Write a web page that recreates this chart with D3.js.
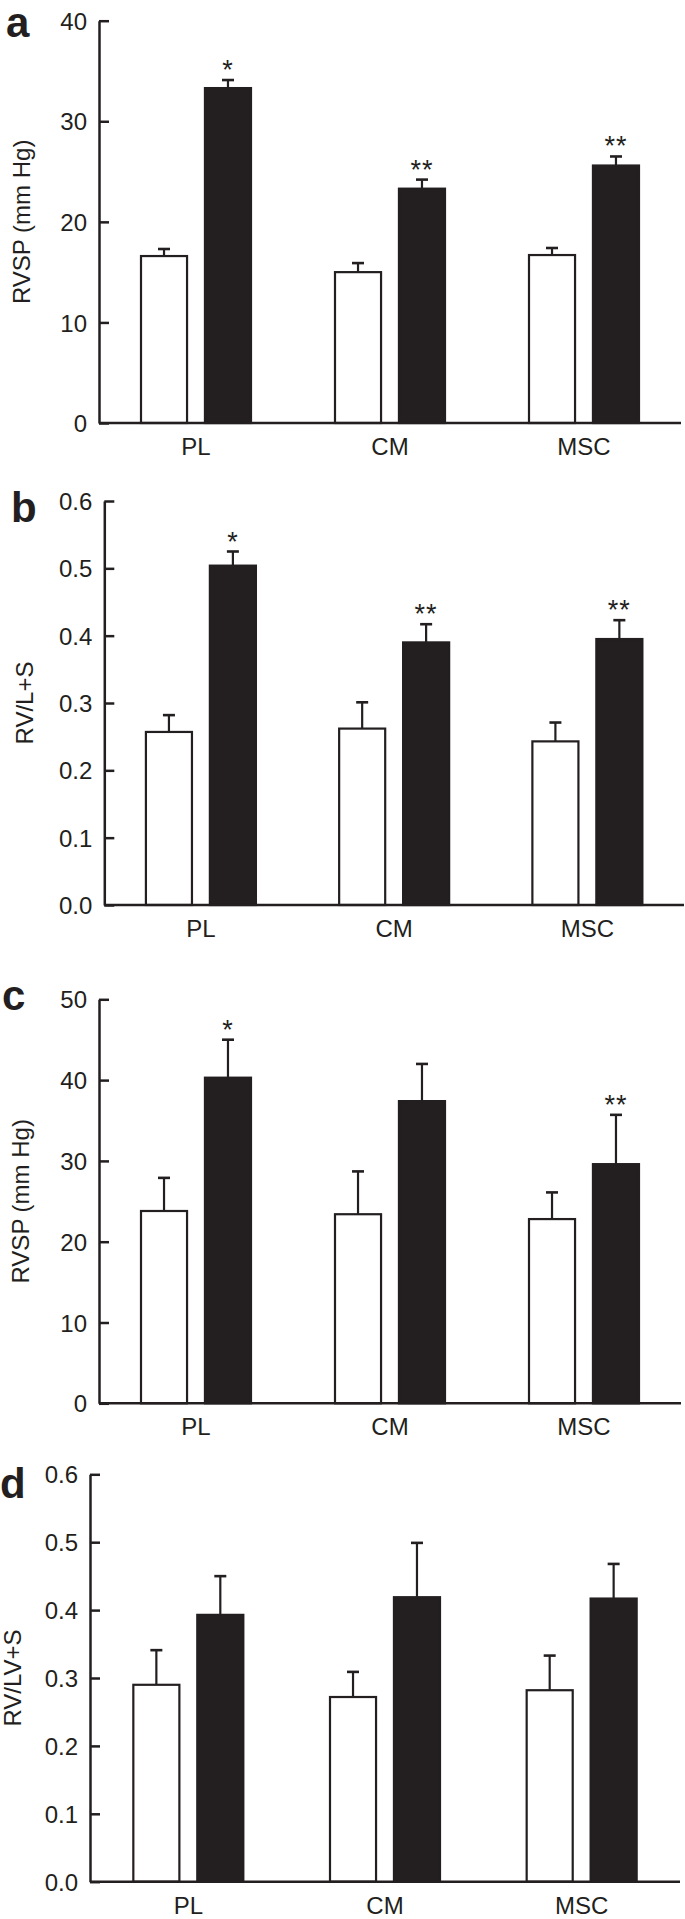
<!DOCTYPE html>
<html>
<head>
<meta charset="utf-8">
<script src="https://cdn.jsdelivr.net/npm/d3@7"></script>
<style>
  body { margin: 0; background: #fff; }
  svg { display: block; font-family: "Liberation Sans", Arial, sans-serif; }
  .axis path, .axis line { stroke: #231f20; stroke-width: 2.5; }
  .axis text { font-size: 24px; fill: #231f20; }
</style>
</head>
<body>
<div id="chart"></div>
<script>
// groups on the x axis
var groups = ["PL", "CM", "MSC"];

// panel a - RVSP
var aCtrl = [16.6, 15.0, 16.7],
  aCtrlErr = [0.7, 0.9, 0.7],
  aTreat = [33.3, 23.3, 25.6],
  aTreatErr = [0.8, 0.9, 0.9],
  aStars = ["*", "**", "**"],
  aTicks = [0, 10, 20, 30, 40];

// panel b - RV/L+S
var bCtrl = [0.257, 0.262, 0.243],
  bCtrlErr = [0.025, 0.039, 0.028],
  bTreat = [0.504, 0.390, 0.395],
  bTreatErr = [0.021, 0.027, 0.028],
  bStars = ["*", "**", "**"],
  bTicks = [0, 0.1, 0.2, 0.3, 0.4, 0.5, 0.6];

// panel c - RVSP
var cCtrl = [23.8, 23.4, 22.8],
  cCtrlErr = [4.1, 5.3, 3.3],
  cTreat = [40.3, 37.4, 29.6],
  cTreatErr = [4.7, 4.6, 6.1],
  cStars = ["*", "", "**"],
  cTicks = [0, 10, 20, 30, 40, 50];

// panel d - RV/LV+S
var dCtrl = [0.290, 0.272, 0.282],
  dCtrlErr = [0.051, 0.037, 0.051],
  dTreat = [0.393, 0.419, 0.417],
  dTreatErr = [0.057, 0.080, 0.051],
  dStars = ["", "", ""],
  dTicks = [0, 0.1, 0.2, 0.3, 0.4, 0.5, 0.6];

var ink = "#231f20";

var svg = d3.select("#chart").append("svg")
  .attr("width", 685)
  .attr("height", 1919);

function panel(opt) {
  var g = svg.append("g");

  var x = d3.scaleBand()
    .domain(groups)
    .range([opt.left, opt.right]);

  var y = d3.scaleLinear()
    .domain([0, d3.max(opt.ticks)])
    .range([opt.bottom, opt.top]);

  // two bars per group, centred in the band
  var inner = d3.scaleBand()
    .domain(["ctrl", "treat"])
    .range([x.bandwidth() / 2 - 55, x.bandwidth() / 2 + 55])
    .paddingInner(0.28);

  var rows = [];
  groups.forEach(function (grp, i) {
    rows.push({ grp: grp, kind: "ctrl", v: opt.ctrl[i], e: opt.ctrlErr[i], star: "" });
    rows.push({ grp: grp, kind: "treat", v: opt.treat[i], e: opt.treatErr[i], star: opt.stars[i] });
  });

  var bx = function (d) { return x(d.grp) + inner(d.kind); };
  var cx = function (d) { return bx(d) + inner.bandwidth() / 2; };

  // error bars (upper half only), drawn under the bars
  g.selectAll(".err")
    .data(rows)
    .enter().append("line")
    .attr("x1", cx).attr("x2", cx)
    .attr("y1", function (d) { return y(d.v); })
    .attr("y2", function (d) { return y(d.v + d.e); })
    .attr("stroke", ink).attr("stroke-width", 2.2);

  g.selectAll(".cap")
    .data(rows)
    .enter().append("line")
    .attr("x1", function (d) { return cx(d) - 6; })
    .attr("x2", function (d) { return cx(d) + 6; })
    .attr("y1", function (d) { return y(d.v + d.e); })
    .attr("y2", function (d) { return y(d.v + d.e); })
    .attr("stroke", ink).attr("stroke-width", 2.6);

  g.selectAll(".bar")
    .data(rows)
    .enter().append("rect")
    .attr("x", bx)
    .attr("y", function (d) { return y(d.v); })
    .attr("width", inner.bandwidth())
    .attr("height", function (d) { return y(0) - y(d.v); })
    .attr("fill", function (d) { return d.kind == "ctrl" ? "#fff" : ink; })
    .attr("stroke", ink)
    .attr("stroke-width", 2.2);

  g.selectAll(".star")
    .data(rows.filter(function (d) { return d.star; }))
    .enter().append("text")
    .attr("x", cx)
    .attr("y", function (d) { return y(d.v + d.e) - 1; })
    .attr("text-anchor", "middle")
    .attr("font-size", 27)
    .attr("letter-spacing", 1)
    .attr("fill", ink)
    .text(function (d) { return d.star; });

  // y axis, ticks pointing inward
  var yAxis = d3.axisLeft(y)
    .tickValues(opt.ticks)
    .tickSize(-10)
    .tickPadding(12)
    .tickSizeOuter(0)
    .tickFormat(opt.fmt);

  g.append("g")
    .attr("class", "axis")
    .attr("transform", "translate(" + opt.left + ",0)")
    .call(yAxis)
    .call(function (s) { s.selectAll("text").attr("dy", "0.36em"); });

  // x axis line
  g.append("line")
    .attr("class", "axisline")
    .attr("x1", opt.left).attr("x2", opt.right)
    .attr("y1", y(0)).attr("y2", y(0))
    .attr("stroke", ink).attr("stroke-width", 2.5);

  g.selectAll(".cat")
    .data(groups)
    .enter().append("text")
    .attr("x", function (d) { return x(d) + x.bandwidth() / 2; })
    .attr("y", y(0) + 32)
    .attr("text-anchor", "middle")
    .attr("font-size", 24)
    .attr("fill", ink)
    .text(function (d) { return d; });

  // y title
  g.append("text")
    .attr("transform", "translate(" + opt.titleX + "," + (opt.top + opt.bottom) / 2 + ") rotate(-90)")
    .attr("text-anchor", "middle")
    .attr("font-size", 24)
    .attr("fill", ink)
    .text(opt.title);

  // panel letter
  g.append("text")
    .attr("x", opt.letterX)
    .attr("y", opt.letterY)
    .attr("font-size", 42)
    .attr("font-weight", "bold")
    .attr("fill", ink)
    .text(opt.letter);
}

var intFmt = d3.format("d"),
  decFmt = d3.format(".1f");

panel({ letter: "a", letterX: 6, letterY: 37, title: "RVSP (mm Hg)", titleX: 30,
  left: 99, right: 681, top: 20.7, bottom: 423,
  ctrl: aCtrl, ctrlErr: aCtrlErr, treat: aTreat, treatErr: aTreatErr, stars: aStars,
  ticks: aTicks, fmt: intFmt });

panel({ letter: "b", letterX: 11, letterY: 522, title: "RV/L+S", titleX: 33,
  left: 104.3, right: 684, top: 501, bottom: 905,
  ctrl: bCtrl, ctrlErr: bCtrlErr, treat: bTreat, treatErr: bTreatErr, stars: bStars,
  ticks: bTicks, fmt: decFmt });

panel({ letter: "c", letterX: 2, letterY: 1010, title: "RVSP (mm Hg)", titleX: 29,
  left: 99, right: 681, top: 999.3, bottom: 1403.3,
  ctrl: cCtrl, ctrlErr: cCtrlErr, treat: cTreat, treatErr: cTreatErr, stars: cStars,
  ticks: cTicks, fmt: intFmt });

panel({ letter: "d", letterX: 0, letterY: 1498, title: "RV/LV+S", titleX: 21,
  left: 90, right: 680, top: 1474.3, bottom: 1881.7,
  ctrl: dCtrl, ctrlErr: dCtrlErr, treat: dTreat, treatErr: dTreatErr, stars: dStars,
  ticks: dTicks, fmt: decFmt });
</script>
</body>
</html>
